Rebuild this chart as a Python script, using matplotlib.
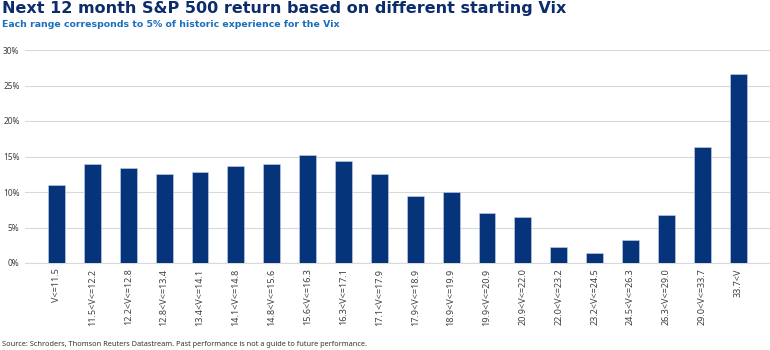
import matplotlib.pyplot as plt
import numpy as np

# Vix ranges, each ~5% of historic experience
ranges = ['V<=11.5', '11.5<V<=12.2', '12.2<V<=12.8', '12.8<V<=13.4', '13.4<V<=14.1',
          '14.1<V<=14.8', '14.8<V<=15.6', '15.6<V<=16.3', '16.3<V<=17.1', '17.1<V<=17.9',
          '17.9<V<=18.9', '18.9<V<=19.9', '19.9<V<=20.9', '20.9<V<=22.0', '22.0<V<=23.2',
          '23.2<V<=24.5', '24.5<V<=26.3', '26.3<V<=29.0', '29.0<V<=33.7', '33.7<V']

# next 12 month S&P 500 return (%)
returns = [11.0, 14.0, 13.4, 12.5, 12.8, 13.7, 14.0, 15.2, 14.3, 12.5,
           9.5, 10.0, 7.0, 6.5, 2.2, 1.4, 3.2, 6.8, 16.4, 26.6]

yticks = [0, 5, 10, 15, 20, 25, 30]

plt.rcParams['font.family'] = ['Noto Sans', 'DejaVu Sans']

fig = plt.figure(figsize=(7.7, 3.5), dpi=100)
ax = fig.add_axes([25/770, 1-263/350, 1-25/770, 213/350])

x = np.arange(len(ranges))
ax.bar(x, returns, width=0.47, color='#06347a', edgecolor='#c9d3ea', linewidth=0.4, zorder=3)

ax.set_ylim(0, 30)
ax.set_xlim(-0.878, 19.89)
ax.set_yticks(yticks)
ax.set_yticklabels([str(t) + '%' for t in yticks], fontsize=6, color='#404040')
ax.set_xticks(x)
ax.set_xticklabels(ranges, rotation=90, fontsize=6.5, color='#404040', va='top')
ax.tick_params(axis='both', length=0, pad=4)

ax.grid(axis='y', color='#d9d9d9', linewidth=0.8, zorder=0)
for s in ['top', 'right', 'left']:
    ax.spines[s].set_visible(False)
ax.spines['bottom'].set_color('#d9d9d9')
ax.spines['bottom'].set_linewidth(0.8)

fig.text(0.003, 1-1/350, 'Next 12 month S&P 500 return based on different starting Vix',
         fontsize=11.5, fontweight='bold', family='DejaVu Sans', color='#0c2c6c', va='top', ha='left')
fig.text(0.003, 1-20/350, 'Each range corresponds to 5% of historic experience for the Vix',
         fontsize=6.75, fontweight='bold', family='DejaVu Sans', color='#1a6fbd', va='top', ha='left')
fig.text(0.003, 1-344/350, 'Source: Schroders, Thomson Reuters Datastream. Past performance is not a guide to future performance.',
         fontsize=5.3, color='#333333', va='center', ha='left')

plt.savefig('out.png', dpi=100)
